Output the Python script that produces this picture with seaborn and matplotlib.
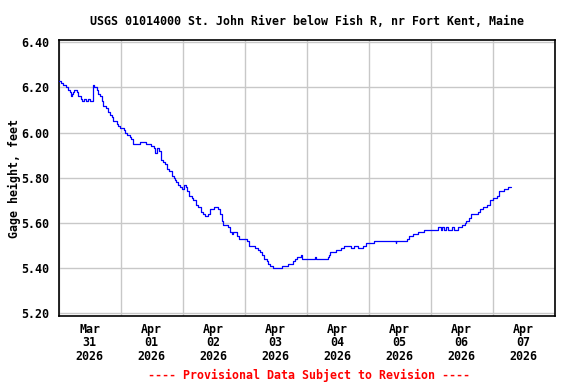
import pandas as pd
import numpy as np
import matplotlib
matplotlib.use("Agg")
import matplotlib.pyplot as plt
import matplotlib.dates as mdates
import seaborn as sns

# gage height readings, hours since 2026-03-31 00:00
hours = [
    0.0, 0.9, 1.5, 2.5, 3.0, 3.7, 4.2, 4.8, 5.3, 5.7, 6.0, 7.0, 7.3, 8.6, 9.2,
    9.9, 10.4, 11.4, 12.0, 13.1, 13.8, 14.7, 15.4, 16.0, 16.6, 17.3, 18.2, 19.2,
    19.8, 20.5, 21.1, 22.4, 23.0, 23.8, 25.1, 25.8, 26.4, 27.7, 28.1, 28.7, 31.5,
    33.8, 35.6, 36.9, 37.3, 37.9, 39.0, 39.6, 40.2, 41.0, 41.9, 42.9, 43.8, 44.7,
    45.1, 45.5, 46.3, 47.0, 47.8, 48.4, 49.3, 49.8, 50.6, 51.5, 52.1, 53.1, 54.0,
    55.0, 56.0, 56.7, 58.0, 58.6, 60.3, 61.6, 62.5, 63.1, 63.5, 65.4, 66.3, 67.0,
    67.6, 69.1, 69.9, 72.8, 73.5, 76.0, 77.1, 78.0, 78.8, 79.6, 80.5, 81.2, 81.8,
    83.1, 86.3, 88.9, 90.6, 91.5, 92.1, 93.7, 94.1, 99.2, 99.6, 104.1, 104.6,
    105.0, 107.3, 109.2, 110.4, 113.0, 114.3, 116.0, 117.9, 119.0, 122.2, 130.5,
    130.7, 134.7, 135.6, 137.3, 139.2, 141.5, 146.9, 147.9, 148.5, 149.2, 149.9,
    150.9, 152.4, 152.9, 154.7, 156.0, 157.3, 157.9, 158.8, 159.6, 162.2, 163.1,
    164.4, 165.7, 167.0, 168.2, 169.6, 170.4, 172.5, 173.8, 175.1,
]
gage = [
    6.23, 6.22, 6.21, 6.21, 6.20, 6.19, 6.18, 6.16, 6.17, 6.18, 6.19, 6.18, 6.16,
    6.15, 6.14, 6.15, 6.14, 6.15, 6.14, 6.21, 6.20, 6.19, 6.17, 6.16, 6.14, 6.12,
    6.11, 6.09, 6.08, 6.07, 6.05, 6.04, 6.03, 6.02, 6.01, 6.00, 5.99, 5.98, 5.97,
    5.95, 5.96, 5.95, 5.94, 5.93, 5.91, 5.93, 5.92, 5.88, 5.87, 5.86, 5.84, 5.83,
    5.81, 5.80, 5.79, 5.78, 5.77, 5.76, 5.75, 5.77, 5.76, 5.74, 5.72, 5.71, 5.70,
    5.68, 5.67, 5.65, 5.64, 5.63, 5.64, 5.66, 5.67, 5.66, 5.64, 5.61, 5.59, 5.58,
    5.56, 5.55, 5.56, 5.54, 5.53, 5.52, 5.50, 5.49, 5.48, 5.47, 5.46, 5.44, 5.43,
    5.42, 5.41, 5.40, 5.41, 5.42, 5.43, 5.44, 5.45, 5.46, 5.44, 5.45, 5.44, 5.45,
    5.46, 5.47, 5.48, 5.49, 5.50, 5.49, 5.50, 5.49, 5.50, 5.51, 5.52, 5.51, 5.52,
    5.53, 5.54, 5.55, 5.56, 5.57, 5.58, 5.57, 5.58, 5.57, 5.58, 5.57, 5.58, 5.57,
    5.58, 5.59, 5.60, 5.61, 5.62, 5.64, 5.65, 5.66, 5.67, 5.68, 5.70, 5.71, 5.72,
    5.74, 5.75, 5.76, 5.76,
]
y_ticks = [5.20, 5.40, 5.60, 5.80, 6.00, 6.20, 6.40]
title = "USGS 01014000 St. John River below Fish R, nr Fort Kent, Maine"

start = pd.Timestamp("2026-03-31")
df = pd.DataFrame({
    "time": start + pd.to_timedelta(hours, unit="h"),
    "gage": gage,
})

sns.set_style("white")
plt.rcParams["font.family"] = ["DejaVu Sans Mono"]
plt.rcParams["font.weight"] = "bold"
plt.rcParams["text.color"] = "black"
plt.rcParams["axes.labelcolor"] = "black"
plt.rcParams["xtick.color"] = "black"
plt.rcParams["ytick.color"] = "black"
fs = 8.4

fig = plt.figure(figsize=(5.76, 3.84), dpi=100)
ax = fig.add_axes([0.1019, 0.1771, 0.8608, 0.7187])

sns.lineplot(data=df, x="time", y="gage", ax=ax, color="#0000ff",
             linewidth=0.9, drawstyle="steps-post", zorder=3)

ax.set_xlim(start, start + pd.Timedelta(days=8))
ax.set_ylim(5.188, 6.410)

ax.set_yticks(y_ticks)
ax.set_yticklabels([f"{v:.2f}" for v in y_ticks], fontsize=fs, fontweight="bold")

ax.xaxis.set_major_locator(mdates.DayLocator())
ax.xaxis.set_major_formatter(plt.NullFormatter())
ax.xaxis.set_minor_locator(mdates.HourLocator(byhour=[12]))
ax.xaxis.set_minor_formatter(mdates.DateFormatter("%b\n%d\n%Y"))
ax.tick_params(axis="x", which="both", length=0, pad=5)
ax.tick_params(axis="x", which="minor", labelsize=fs)
ax.tick_params(axis="y", length=0, pad=7)
for lbl in ax.get_xticklabels(minor=True):
    lbl.set_fontweight("bold")
    lbl.set_linespacing(1.05)

ax.grid(True, which="major", color="#c8c8c8", linewidth=1.0)
ax.set_axisbelow(True)
for sp in ax.spines.values():
    sp.set_color("black")
    sp.set_linewidth(1.2)

ax.set_xlabel("")
ax.set_ylabel("Gage height, feet", fontsize=fs, fontweight="bold", labelpad=0)
ax.set_title(title, fontsize=fs, fontweight="bold", pad=11)

fig.text(0.536, 1 - 375 / 384, "---- Provisional Data Subject to Revision ----",
         color="#ff0000", fontsize=fs, fontweight="bold", ha="center", va="center")

fig.savefig("out.png", dpi=100)
